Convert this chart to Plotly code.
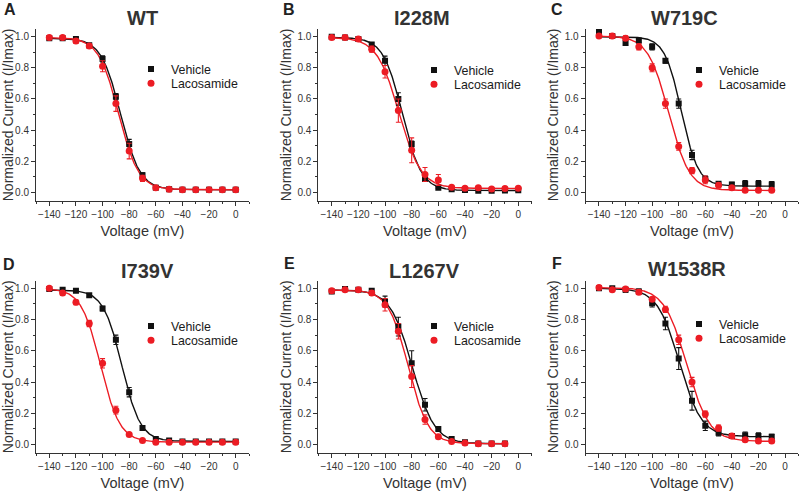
import numpy as np
import plotly.graph_objects as go

# ---------------- data ----------------
volt_full = [-140, -130, -120, -110, -100, -90, -80, -70, -60, -50, -40, -30, -20, -10, 0]
volt_short = [-140, -130, -120, -110, -100, -90, -80, -70, -60, -50, -40, -30, -20, -10]

panel_letters = ["A", "B", "C", "D", "E", "F"]
panel_titles = ["WT", "I228M", "W719C", "I739V", "L1267V", "W1538R"]
series_names = ["Vehicle", "Lacosamide"]

# WT
wt_veh = [0.99, 0.99, 0.985, 0.945, 0.857, 0.615, 0.31, 0.11, 0.03, 0.02, 0.017, 0.017, 0.017, 0.017, 0.017]
wt_veh_err = [0.01, 0.01, 0.01, 0.01, 0.02, 0.02, 0.03, 0.015, 0.005, 0.005, 0.005, 0.005, 0.005, 0.005, 0.005]
wt_lac = [0.995, 0.995, 0.972, 0.94, 0.81, 0.57, 0.265, 0.09, 0.03, 0.02, 0.017, 0.017, 0.017, 0.017, 0.017]
wt_lac_err = [0.01, 0.01, 0.015, 0.015, 0.035, 0.05, 0.05, 0.02, 0.005, 0.005, 0.005, 0.005, 0.005, 0.005, 0.005]

# I228M
i228m_veh = [1.0, 0.995, 0.985, 0.95, 0.845, 0.6, 0.31, 0.085, 0.03, 0.02, 0.015, 0.01, 0.01, 0.012, 0.014]
i228m_veh_err = [0.01, 0.01, 0.01, 0.01, 0.03, 0.04, 0.02, 0.01, 0.005, 0.005, 0.005, 0.005, 0.005, 0.005, 0.005]
i228m_lac = [0.995, 0.995, 0.985, 0.92, 0.775, 0.525, 0.27, 0.115, 0.08, 0.032, 0.026, 0.03, 0.022, 0.025, 0.026]
i228m_lac_err = [0.01, 0.01, 0.01, 0.02, 0.04, 0.075, 0.08, 0.045, 0.035, 0.01, 0.01, 0.012, 0.01, 0.01, 0.01]

# W719C
w719c_veh = [1.03, 1.005, 0.96, 0.975, 0.935, 0.845, 0.57, 0.24, 0.085, 0.055, 0.05, 0.055, 0.055, 0.05]
w719c_veh_err = [0.01, 0.01, 0.015, 0.015, 0.02, 0.015, 0.03, 0.03, 0.02, 0.01, 0.015, 0.02, 0.02, 0.02]
w719c_lac = [1.005, 1.005, 0.99, 0.935, 0.80, 0.57, 0.295, 0.14, 0.08, 0.045, 0.03, 0.013, 0.013, 0.013]
w719c_lac_err = [0.01, 0.01, 0.015, 0.02, 0.025, 0.03, 0.025, 0.02, 0.025, 0.015, 0.01, 0.005, 0.005, 0.005]

# I739V
i739v_veh = [0.995, 0.99, 0.985, 0.955, 0.87, 0.67, 0.335, 0.105, 0.035, 0.025, 0.02, 0.02, 0.02, 0.02, 0.02]
i739v_veh_err = [0.005, 0.01, 0.01, 0.01, 0.015, 0.03, 0.03, 0.01, 0.005, 0.005, 0.005, 0.005, 0.005, 0.005, 0.005]
i739v_lac = [1.0, 0.97, 0.91, 0.775, 0.52, 0.22, 0.064, 0.025, 0.015, 0.015, 0.015, 0.015, 0.015, 0.015, 0.015]
i739v_lac_err = [0.01, 0.015, 0.015, 0.02, 0.03, 0.025, 0.01, 0.005, 0.005, 0.005, 0.005, 0.005, 0.005, 0.005, 0.005]

# L1267V
l1267v_veh = [0.98, 0.995, 0.99, 0.985, 0.915, 0.755, 0.52, 0.255, 0.1, 0.035, 0.015, 0.006, 0.006, 0.006]
l1267v_veh_err = [0.01, 0.01, 0.01, 0.01, 0.035, 0.06, 0.08, 0.04, 0.01, 0.005, 0.005, 0.005, 0.005, 0.005]
l1267v_lac = [0.985, 0.99, 0.99, 0.97, 0.895, 0.725, 0.435, 0.16, 0.05, 0.02, 0.01, 0.005, 0.005, 0.005]
l1267v_lac_err = [0.01, 0.01, 0.01, 0.015, 0.04, 0.05, 0.07, 0.03, 0.01, 0.005, 0.005, 0.005, 0.005, 0.005]

# W1538R
w1538r_veh = [1.0, 1.0, 0.99, 0.98, 0.905, 0.775, 0.55, 0.28, 0.12, 0.075, 0.055, 0.06, 0.055, 0.05]
w1538r_veh_err = [0.01, 0.01, 0.015, 0.015, 0.025, 0.04, 0.07, 0.06, 0.03, 0.02, 0.015, 0.02, 0.02, 0.015]
w1538r_lac = [1.005, 0.99, 0.995, 0.975, 0.93, 0.865, 0.67, 0.40, 0.195, 0.105, 0.055, 0.03, 0.022, 0.022]
w1538r_lac_err = [0.01, 0.01, 0.01, 0.015, 0.01, 0.02, 0.03, 0.03, 0.02, 0.02, 0.01, 0.005, 0.005, 0.005]

# Boltzmann fit parameters: top, bottom, V1/2 (mV), slope k (mV)
fit_veh = [(0.99, 0.017, -86.5, 7.3), (0.995, 0.012, -87.0, 7.2), (1.0, 0.04, -78.0, 6.3),
           (0.99, 0.02, -85.5, 7.0), (0.99, 0.005, -79.5, 8.3), (1.0, 0.05, -79.5, 8.3)]
fit_lac = [(0.995, 0.017, -88.0, 7.5), (0.995, 0.025, -89.5, 8.3), (1.005, 0.012, -87.5, 7.8),
           (1.0, 0.015, -101.5, 7.3), (0.99, 0.005, -82.5, 7.5), (1.005, 0.02, -74.0, 8.5)]

panel_volts = [volt_full, volt_full, volt_short, volt_full, volt_short, volt_short]
panel_veh = [wt_veh, i228m_veh, w719c_veh, i739v_veh, l1267v_veh, w1538r_veh]
panel_veh_err = [wt_veh_err, i228m_veh_err, w719c_veh_err, i739v_veh_err, l1267v_veh_err, w1538r_veh_err]
panel_lac = [wt_lac, i228m_lac, w719c_lac, i739v_lac, l1267v_lac, w1538r_lac]
panel_lac_err = [wt_lac_err, i228m_lac_err, w719c_lac_err, i739v_lac_err, l1267v_lac_err, w1538r_lac_err]

# ---------------- style / layout ----------------
FONT = "Liberation Sans, Arial, sans-serif"
BLACK = "#111111"
RED = "#ec1c24"
AXC = "#333333"
W, H = 800, 491

col_px = [(36.0, 249.0), (318.4, 531.6), (585.7, 798.3)]
row_px = [(28.9, 200.9), (280.5, 453.1)]
letter_px = [(10, 10), (289, 10), (557, 10), (9, 264), (289, 263), (557, 263)]
title_px = [(142, 18.5), (422.5, 18.5), (684.5, 18.5), (147.5, 270.5), (424.5, 270.5), (686.5, 268.5)]
legend_px = [(151, 69), (434, 70), (699, 70), (151, 326), (434, 326), (699, 324)]
legend_step = 14.4


def boltz(v, p):
    top, bot, vh, k = p
    v = np.asarray(v, dtype=float)
    return bot + (top - bot) / (1.0 + np.exp((v - vh) / k))


fig = go.Figure()
layout = dict(width=W, height=H, margin=dict(l=0, r=0, t=0, b=0),
              paper_bgcolor="white", plot_bgcolor="white",
              font=dict(family=FONT, color=AXC), annotations=[])

for i in range(6):
    r, c = divmod(i, 3)
    ax = "" if i == 0 else str(i + 1)
    xa, ya = "x" + ax, "y" + ax
    volts = panel_volts[i]
    vgrid = np.linspace(volts[0], volts[-1], 300)

    for col, fp in [(BLACK, fit_veh[i]), (RED, fit_lac[i])]:
        fig.add_trace(go.Scatter(x=vgrid, y=boltz(vgrid, fp), mode="lines",
                                 line=dict(color=col, width=1.4), showlegend=False,
                                 xaxis=xa, yaxis=ya, hoverinfo="skip"))
    for j, (name, col, sym, size, vals, errs) in enumerate([
        ("Vehicle", BLACK, "square", 6, panel_veh[i], panel_veh_err[i]),
        ("Lacosamide", RED, "circle", 7, panel_lac[i], panel_lac_err[i]),
    ]):
        lg_idx = 2 * i + j + 1
        lg = "legend" if lg_idx == 1 else f"legend{lg_idx}"
        fig.add_trace(go.Scatter(x=volts, y=vals, mode="markers", name=name,
                                 marker=dict(color=col, symbol=sym, size=size, line=dict(width=0)),
                                 error_y=dict(type="data", array=errs, color=col, thickness=1.1, width=2.5),
                                 xaxis=xa, yaxis=ya, legend=lg, showlegend=True))
        lx, ly = legend_px[i]
        ly = ly + j * legend_step
        layout[lg] = dict(x=(lx - 20) / W, y=1 - (ly - 14.6) / H, xanchor="left", yanchor="top",
                          xref="paper", yref="paper", bgcolor="rgba(0,0,0,0)", borderwidth=0,
                          font=dict(family=FONT, size=12.4, color="#1a1a1a"))

    x0, x1 = col_px[c]
    y0, y1 = row_px[r]
    layout["xaxis" + ax] = dict(
        domain=[x0 / W, x1 / W], anchor=ya, range=[-150, 10],
        tickmode="array", tickvals=list(range(-140, 1, 20)),
        ticks="outside", ticklen=4, tickwidth=1, tickcolor=AXC,
        minor=dict(tickvals=list(range(-150, 11, 10)), ticks="outside", ticklen=2, tickcolor=AXC),
        showline=True, linecolor=AXC, linewidth=1, showgrid=False, zeroline=False,
        tickfont=dict(size=10, color=AXC, family=FONT),
        title=dict(text="Voltage (mV)", font=dict(size=14.5, color=AXC, family=FONT), standoff=6),
        automargin=False)
    layout["yaxis" + ax] = dict(
        domain=[1 - y1 / H, 1 - y0 / H], anchor=xa, range=[-0.055, 1.05],
        tickmode="array", tickvals=[0, 0.2, 0.4, 0.6, 0.8, 1.0],
        ticktext=["0.0", "0.2", "0.4", "0.6", "0.8", "1.0"],
        ticks="outside", ticklen=4, tickwidth=1, tickcolor=AXC,
        minor=dict(tickvals=[0.1, 0.3, 0.5, 0.7, 0.9], ticks="outside", ticklen=2, tickcolor=AXC),
        showline=True, linecolor=AXC, linewidth=1, showgrid=False, zeroline=False,
        tickfont=dict(size=10, color=AXC, family=FONT),
        title=dict(text="Normalized Current (I/Imax)", font=dict(size=14, color=AXC, family=FONT), standoff=2),
        automargin=False)

    lxp, lyp = letter_px[i]
    layout["annotations"].append(dict(text=f"<b>{panel_letters[i]}</b>", x=lxp / W, y=1 - lyp / H,
                                      xref="paper", yref="paper", showarrow=False,
                                      xanchor="center", yanchor="middle",
                                      font=dict(size=16, color="#222222", family=FONT)))
    txp, typ = title_px[i]
    layout["annotations"].append(dict(text=f"<b>{panel_titles[i]}</b>", x=txp / W, y=1 - typ / H,
                                      xref="paper", yref="paper", showarrow=False,
                                      xanchor="center", yanchor="middle",
                                      font=dict(size=20, color="#333333", family=FONT)))

fig.update_layout(**layout)
fig.write_html("out.html", config={"displayModeBar": False},
               post_script="document.body.style.margin='0';document.body.style.overflow='hidden';")
